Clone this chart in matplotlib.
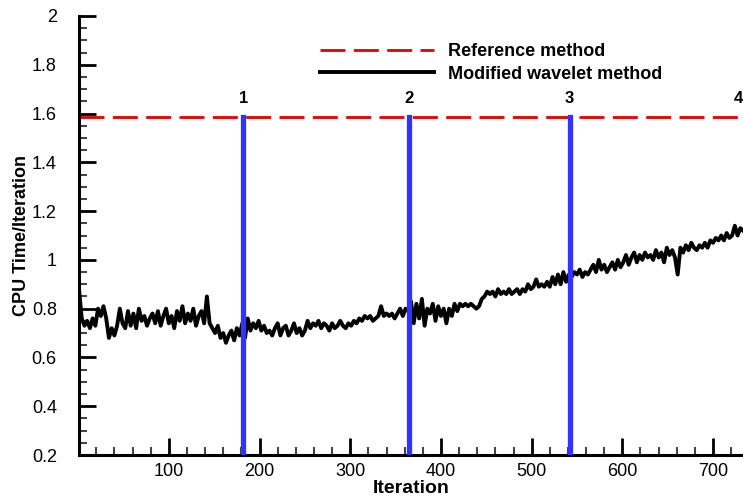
import numpy as np
import matplotlib
matplotlib.use("Agg")
import matplotlib.pyplot as plt
from matplotlib.ticker import MultipleLocator

plt.rcParams['font.family'] = ['Liberation Sans', 'DejaVu Sans']

# CPU time per iteration, read every 3 iterations (1, 4, 7, ... 733)
cpu_time = [
    0.88, 0.76, 0.73, 0.75, 0.72, 0.76, 0.73, 0.80, 0.77, 0.81,
    0.76, 0.68, 0.72, 0.69, 0.73, 0.80, 0.74, 0.72, 0.79, 0.73,
    0.78, 0.72, 0.80, 0.75, 0.77, 0.73, 0.76, 0.78, 0.74, 0.79,
    0.73, 0.77, 0.80, 0.74, 0.77, 0.72, 0.79, 0.75, 0.81, 0.74,
    0.78, 0.75, 0.80, 0.73, 0.77, 0.79, 0.74, 0.85, 0.74, 0.72,
    0.70, 0.73, 0.68, 0.70, 0.66, 0.69, 0.71, 0.67, 0.72, 0.69,
    0.74, 0.68, 0.76, 0.71, 0.74, 0.72, 0.75, 0.71, 0.73, 0.70,
    0.71, 0.69, 0.72, 0.74, 0.69, 0.72, 0.73, 0.69, 0.71, 0.74,
    0.70, 0.72, 0.69, 0.71, 0.75, 0.72, 0.74, 0.73, 0.75, 0.72,
    0.74, 0.73, 0.71, 0.74, 0.72, 0.73, 0.75, 0.73, 0.72, 0.74,
    0.73, 0.75, 0.74, 0.76, 0.75, 0.77, 0.76, 0.77, 0.75, 0.76,
    0.77, 0.81, 0.77, 0.78, 0.77, 0.78, 0.76, 0.78, 0.80, 0.77,
    0.80, 0.79, 0.83, 0.74, 0.82, 0.76, 0.84, 0.73, 0.80, 0.78,
    0.82, 0.75, 0.81, 0.77, 0.80, 0.74, 0.80, 0.77, 0.82, 0.79,
    0.82, 0.81, 0.82, 0.81, 0.82, 0.81, 0.80, 0.81, 0.84, 0.85,
    0.87, 0.86, 0.87, 0.85, 0.88, 0.86, 0.87, 0.86, 0.88, 0.86,
    0.87, 0.88, 0.86, 0.88, 0.87, 0.90, 0.88, 0.89, 0.92, 0.89,
    0.90, 0.89, 0.91, 0.89, 0.93, 0.90, 0.94, 0.90, 0.95, 0.91,
    0.94, 0.93, 0.95, 0.94, 0.96, 0.93, 0.95, 0.94, 0.96, 0.98,
    0.95, 1.00, 0.96, 0.98, 0.95, 0.97, 0.99, 0.96, 1.00, 0.97,
    0.99, 1.02, 0.98, 1.01, 1.03, 0.99, 1.02, 1.00, 1.03, 1.01,
    1.02, 1.00, 1.04, 1.01, 1.03, 0.99, 1.05, 1.02, 1.04, 1.01,
    0.94, 1.05, 1.03, 1.06, 1.04, 1.07, 1.05, 1.04, 1.06, 1.05,
    1.07, 1.05, 1.08, 1.07, 1.09, 1.08, 1.10, 1.08, 1.11, 1.09,
    1.10, 1.14, 1.10, 1.13, 1.12,
]
iterations = np.arange(1, 1 + 3 * len(cpu_time), 3)

reference_time = 1.585
restart_iters = [182, 365, 542, 736]
restart_labels = ['1', '2', '3', '4']

fig = plt.figure(figsize=(7.43, 4.99), dpi=100)
ax = fig.add_axes([79 / 743, 44 / 499, 664 / 743, 439 / 499])

ax.axhline(reference_time, color='#e00000', lw=2, dashes=(9, 3),
           label='Reference method', zorder=2)
ax.plot(iterations, cpu_time, color='black', lw=2.8,
        label='Modified wavelet method', zorder=3)

for it, lab in zip(restart_iters, restart_labels):
    ax.plot([it, it], [0.2, reference_time], color='#3333ff', lw=3.8, zorder=4)
    if it < 733:
        ax.text(it, 1.63, lab, ha='center', va='bottom', fontsize=12,
                fontweight='bold')
    else:
        ax.text(733, 1.63, lab, ha='right', va='bottom', fontsize=12,
                fontweight='bold', clip_on=False)

ax.set_xlim(1, 733)
ax.set_ylim(0.2, 2)
ax.set_xticks([100, 200, 300, 400, 500, 600, 700])
ax.xaxis.set_minor_locator(MultipleLocator(20))
ax.yaxis.set_major_locator(MultipleLocator(0.2))
ax.yaxis.set_minor_locator(MultipleLocator(0.05))
ax.yaxis.set_major_formatter(plt.FuncFormatter(lambda v, p: '%g' % round(v, 2)))

ax.tick_params(which='both', direction='in', top=False, right=False)
ax.tick_params(which='major', length=12, width=2, labelsize=13, color='black')
ax.tick_params(axis='y', which='major', pad=16)
ax.tick_params(axis='x', which='major', pad=6)
ax.tick_params(which='minor', length=6, width=1.5, color='#444444')

for s in ['top', 'right']:
    ax.spines[s].set_visible(False)
for s in ['left', 'bottom']:
    ax.spines[s].set_linewidth(2.2)

ax.set_xlabel('Iteration', fontsize=14, fontweight='bold', labelpad=0)
ax.set_ylabel('CPU Time/Iteration', fontsize=13, fontweight='bold', labelpad=1)

ax.legend(loc='upper left', bbox_to_anchor=(304 / 743, 1 - 27 / 499),
          bbox_transform=fig.transFigure, frameon=False,
          prop={'weight': 'bold', 'size': 13}, handlelength=6.3,
          handletextpad=0.8, labelspacing=0.3)

fig.savefig('out.png', dpi=100)
